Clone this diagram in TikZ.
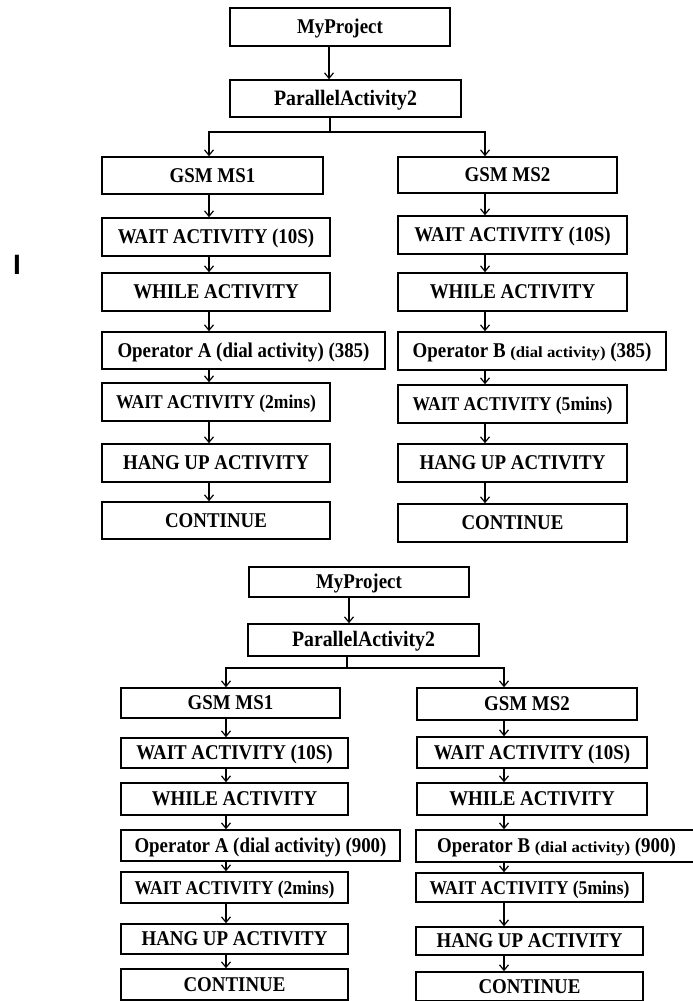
\documentclass[tikz,border=0pt]{standalone}
\usepackage{fontspec}
\usepackage{graphicx}
\setmainfont{Liberation Serif}
\newfontfamily\boxfont[FakeStretch=0.9]{Liberation Serif}
\newfontfamily\barfont{Liberation Sans}
\usetikzlibrary{arrows.meta}
\newcommand\mybox[6]{\node[box, minimum width={#3-#2}, minimum height={#5-#4}] (#1) at ({(#2+#3)/2},{(#4+#5)/2}) {#6};}
\newcommand\fs[1]{\fontsize{#1}{#1}\selectfont}
\newcommand\smalldial{{\fs{15.5}\scalebox{1.2}[1]{(dial activity)}}}
\begin{document}
\begin{tikzpicture}[x=1pt,y=-1pt,
  box/.style={draw, line width=1.5pt, inner sep=0pt, text height=13.9pt, text depth=0pt,
              font=\boxfont\bfseries\fontsize{21}{24}\selectfont},
  arr/.style={line width=1.2pt, -{Straight Barb[length=5.5pt,width=9pt,line width=1.2pt]}},
  lin/.style={line width=1.2pt}]
\useasboundingbox (0,0) rectangle (693,1001);

% stray mark
\node[font=\barfont\bfseries\fs{28}, inner sep=0pt] (mark) at (17,265) {I};

% ---------------- upper diagram ----------------
\mybox{mpA}{230}{450}{8}{46}{MyProject}
\mybox{paA}{230}{461}{80}{117}{\fs{22}ParallelActivity2}
\mybox{gLA}{102}{323}{157}{194}{GSM MS1}
\mybox{gRA}{398}{617}{157}{193}{GSM MS2}
\mybox{wLA}{102}{330}{218}{256}{WAIT ACTIVITY (10S)}
\mybox{wRA}{398}{627}{216}{254}{WAIT ACTIVITY (10S)}
\mybox{whLA}{102}{330}{273}{311}{WHILE ACTIVITY}
\mybox{whRA}{398}{627}{273}{311}{WHILE ACTIVITY}
\mybox{oLA}{102}{385}{332}{369}{Operator A (dial activity) (385)}
\mybox{oRA}{398}{666}{332}{370}{Operator B \smalldial{} (385)}
\mybox{mLA}{102}{330}{383}{421}{\fs{19.5}WAIT ACTIVITY (2mins)}
\mybox{mRA}{398}{627}{385}{423}{\fs{19.5}WAIT ACTIVITY (5mins)}
\mybox{hLA}{102}{330}{444}{482}{HANG UP ACTIVITY}
\mybox{hRA}{398}{627}{444}{482}{HANG UP ACTIVITY}
\mybox{cLA}{102}{330}{502}{539}{CONTINUE}
\mybox{cRA}{398}{627}{504}{542}{CONTINUE}

\coordinate (colA) at (329,0);
\coordinate (colLA) at (209,0);
\coordinate (colRA) at (485,0);
\coordinate (brA) at (330,132);

\draw[arr] (mpA.south -| colA) -- (paA.north -| colA);
\draw[lin] (paA.south -| brA) -- (brA);
\draw[arr] (brA) -| (gLA.north -| colLA);
\draw[arr] (brA) -| (gRA.north -| colRA);
\foreach \a/\b in {gLA/wLA, wLA/whLA, whLA/oLA, oLA/mLA, mLA/hLA, hLA/cLA}
  \draw[arr] (\a.south -| colLA) -- (\b.north -| colLA);
\foreach \a/\b in {gRA/wRA, wRA/whRA, whRA/oRA, oRA/mRA, mRA/hRA, hRA/cRA}
  \draw[arr] (\a.south -| colRA) -- (\b.north -| colRA);

% ---------------- lower diagram ----------------
\mybox{mpB}{249}{469}{567}{597}{MyProject}
\mybox{paB}{248}{479}{624}{656}{\fs{22}ParallelActivity2}
\mybox{gLB}{121}{340}{688}{718}{GSM MS1}
\mybox{gRB}{417}{637}{688}{720}{GSM MS2}
\mybox{wLB}{121}{348}{738}{768}{WAIT ACTIVITY (10S)}
\mybox{wRB}{417}{647}{737}{768}{WAIT ACTIVITY (10S)}
\mybox{whLB}{121}{348}{783}{815}{WHILE ACTIVITY}
\mybox{whRB}{417}{647}{783}{815}{WHILE ACTIVITY}
\mybox{oLB}{121}{400}{830}{861}{Operator A (dial activity) (900)}
\mybox{oRB}{416}{697}{830}{862}{Operator B \smalldial{} (900)}
\mybox{mLB}{121}{348}{872}{903}{\fs{19.5}WAIT ACTIVITY (2mins)}
\mybox{mRB}{416}{643}{873}{902}{\fs{19.5}WAIT ACTIVITY (5mins)}
\mybox{hLB}{121}{348}{924}{954}{HANG UP ACTIVITY}
\mybox{hRB}{416}{643}{927}{955}{HANG UP ACTIVITY}
\mybox{cLB}{121}{348}{969}{1000}{CONTINUE}
\mybox{cRB}{416}{643}{972}{1001}{CONTINUE}

\coordinate (colB) at (349,0);
\coordinate (colLB) at (226,0);
\coordinate (colRB) at (504,0);
\coordinate (brB) at (347,668);

\draw[arr] (mpB.south -| colB) -- (paB.north -| colB);
\draw[lin] (paB.south -| brB) -- (brB);
\draw[arr] (brB) -| (gLB.north -| colLB);
\draw[arr] (brB) -| (gRB.north -| colRB);
\foreach \a/\b in {gLB/wLB, wLB/whLB, whLB/oLB, oLB/mLB, mLB/hLB, hLB/cLB}
  \draw[arr] (\a.south -| colLB) -- (\b.north -| colLB);
\foreach \a/\b in {gRB/wRB, wRB/whRB, whRB/oRB, oRB/mRB, mRB/hRB, hRB/cRB}
  \draw[arr] (\a.south -| colRB) -- (\b.north -| colRB);
\end{tikzpicture}
\end{document}
